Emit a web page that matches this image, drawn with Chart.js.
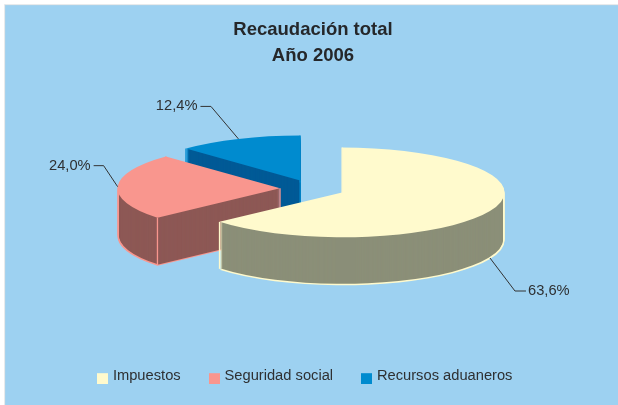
<!DOCTYPE html>
<html><head><meta charset="utf-8">
<style>html,body{margin:0;padding:0;background:#fff}canvas{display:block}</style>
<script src="https://cdn.jsdelivr.net/npm/chart.js@4"></script>
</head><body>
<div style="width:618px;height:405px"><canvas id="c" width="618" height="405"></canvas></div>
<script>
const categories = ['Impuestos', 'Seguridad social', 'Recursos aduaneros'];
const shares = [63.6, 24.0, 12.4];
const titleLines = ['Recaudación total', 'Año 2006'];
const topColors = ['#FFFACD', '#F9968E', '#008BCF'];
const sideColors = ['#8B8F78', '#8D5855', '#005A96'];

const FONT = '"Liberation Sans", Arial, sans-serif';
const TEXT = '#2E3032';
const CENTER = {x: 312.5, y: 188.7};
const TILT = 0.276, DEPTH = 47, EXPLODE = 32.5, RADIUS = 162.5;
// leader bends, relative to the rim point [bendX, bendY, endX]
const LEADERS = [[25, 33, 36], [-14, -21, -24], [-27.5, -32.5, -38]];
const LEGEND_SHIFT = -7;

function swatch(color) {
  const s = document.createElement('canvas');
  s.width = 11; s.height = 17;
  const g = s.getContext('2d');
  g.fillStyle = color; g.fillRect(0, 6, 11, 11);
  return s;
}

const pie3d = {
  id: 'pie3d',
  afterLayout(chart) {
    chart.legend.left += LEGEND_SHIFT;
    chart.legend.right += LEGEND_SHIFT;
  },
  beforeDraw(chart) {
    const {ctx} = chart;
    ctx.save();
    ctx.fillStyle = '#fff'; ctx.fillRect(0, 0, 618, 405);
    ctx.fillStyle = '#9DD1F1'; ctx.fillRect(5, 5, 613, 400);
    ctx.fillStyle = '#CFD6DA'; ctx.fillRect(4.5, 4.5, 613.5, 0.7); ctx.fillRect(4.5, 4.5, 0.7, 400.5);
    ctx.restore();
  },
  beforeDatasetsDraw(chart) {
    const {ctx} = chart;
    const arcs = chart.getDatasetMeta(0).data;
    const place = (arc, d) => {
      const mid = (arc.startAngle + arc.endAngle) / 2;
      ctx.translate(CENTER.x + EXPLODE * Math.cos(mid),
                    CENTER.y + TILT * EXPLODE * Math.sin(mid) + d);
      ctx.scale(1, TILT);
      ctx.translate(-arc.x, -arc.y);
    };
    const stamp = (arc, color, d, inset) => {
      const o = arc.options, r = arc.outerRadius;
      arc.options = Object.assign({}, o, {backgroundColor: color, borderColor: color, borderWidth: 0});
      arc.outerRadius = r - inset;
      ctx.save(); place(arc, d); arc.draw(ctx); ctx.restore();
      arc.options = o; arc.outerRadius = r;
    };
    [2, 1, 0].forEach(i => {
      const arc = arcs[i];
      for (let d = DEPTH + 1; d >= 1; d--) stamp(arc, topColors[i], d, 0);
      for (let d = DEPTH; d >= 1; d--) stamp(arc, sideColors[i], d, 1.5);
      // light corner edges of the extrusion
      const mid = (arc.startAngle + arc.endAngle) / 2;
      const ax = CENTER.x + EXPLODE * Math.cos(mid);
      const ay = CENTER.y + TILT * EXPLODE * Math.sin(mid);
      const corners = [];
      if (arc.endAngle - arc.startAngle < Math.PI) corners.push([ax, ay]);
      [arc.startAngle, arc.endAngle].forEach(a => corners.push(
        [ax + arc.outerRadius * Math.cos(a), ay + TILT * arc.outerRadius * Math.sin(a)]));
      ctx.save();
      ctx.strokeStyle = topColors[i]; ctx.lineWidth = 1.3;
      corners.forEach(([x, y]) => {
        ctx.beginPath(); ctx.moveTo(x, y); ctx.lineTo(x, y + DEPTH); ctx.stroke();
      });
      ctx.restore();
      stamp(arc, topColors[i], 0, 0);
    });
    // percentage labels with leader lines
    ctx.save();
    ctx.strokeStyle = '#333'; ctx.lineWidth = 1;
    ctx.fillStyle = TEXT; ctx.font = '14.7px ' + FONT; ctx.textBaseline = 'middle';
    arcs.forEach((arc, i) => {
      const mid = (arc.startAngle + arc.endAngle) / 2;
      const rx = CENTER.x + (EXPLODE + arc.outerRadius) * Math.cos(mid);
      let ry = CENTER.y + TILT * (EXPLODE + arc.outerRadius) * Math.sin(mid);
      if (Math.sin(mid) > 0.2) ry += DEPTH;
      const [bx, by, ex] = LEADERS[i];
      ctx.beginPath(); ctx.moveTo(rx, ry);
      ctx.lineTo(rx + bx, ry + by); ctx.lineTo(rx + ex, ry + by); ctx.stroke();
      const right = ex > 0;
      ctx.textAlign = right ? 'left' : 'right';
      ctx.fillText(shares[i].toFixed(1).replace('.', ',') + '%', rx + ex + (right ? 2 : -3), ry + by);
    });
    ctx.restore();
    return false;
  }
};

new Chart(document.getElementById('c'), {
  type: 'pie',
  data: {
    labels: categories,
    datasets: [{data: shares, backgroundColor: topColors, borderWidth: 0}]
  },
  options: {
    responsive: false,
    animation: false,
    events: [],
    radius: RADIUS,
    layout: {padding: {left: 8, right: 0, top: 13, bottom: 12}},
    plugins: {
      tooltip: {enabled: false},
      title: {
        display: true, text: titleLines, color: '#25272A',
        font: {family: FONT, size: 18.5, weight: 'bold', lineHeight: 1.4},
        padding: {top: 4, bottom: 4}
      },
      legend: {
        position: 'bottom',
        onClick: null,
        labels: {
          usePointStyle: true, pointStyleWidth: 6, boxHeight: 14,
          padding: 30.5, color: TEXT, font: {family: FONT, size: 14.7},
          generateLabels: () => categories.map((t, i) => ({
            text: t, pointStyle: swatch(topColors[i]), fillStyle: topColors[i],
            strokeStyle: topColors[i], lineWidth: 0, fontColor: TEXT, index: i
          }))
        }
      }
    }
  },
  plugins: [pie3d]
});
</script>
</body></html>
